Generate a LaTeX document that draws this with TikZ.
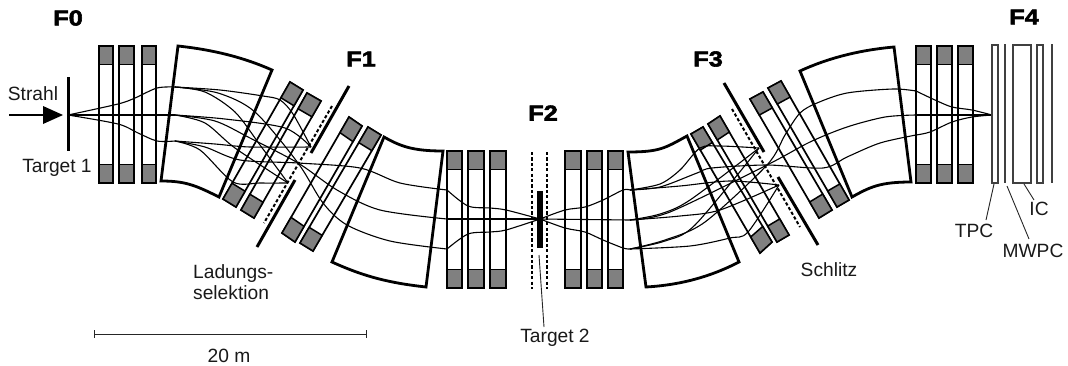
\documentclass[tikz,border=0pt]{standalone}
\usepackage{fontspec}
\setmainfont{Liberation Sans}
\newfontfamily\heavyfont[FakeBold=2.6,FakeStretch=1.18]{Liberation Sans Bold}
\usetikzlibrary{calc}
\definecolor{qgray}{HTML}{808080}
\tikzset{
  ray/.style={draw=black,line width=1.1pt,smooth,tension=0.5},
  dipole/.style={draw=black,line width=2.8pt,line join=miter},
  qbox/.style={draw=black,line width=1.7pt,fill=white,line join=miter},
  qend/.style={draw=black,line width=1.5pt,fill=qgray,line join=miter},
  slit/.style={draw=black,line width=3pt},
  dslit/.style={draw=black,line width=2pt,dash pattern=on 3.2pt off 2.2pt},
  det/.style={draw=black!75,line width=1.4pt,fill=white},
  detline/.style={draw=black!75,line width=1.2pt},
  lead/.style={draw=black!85,line width=0.9pt},
  lab/.style={font=\fontsize{19.2pt}{21pt}\selectfont,inner sep=0pt,text=black!90},
  head/.style={font=\heavyfont\fontsize{21.5pt}{24pt}\selectfont,inner sep=0pt},
}
% four corners: top-left, top-right, bottom-right, bottom-left
\newcommand{\magnet}[4]{%
  \path[qbox] #1 -- #2 -- #3 -- #4 -- cycle;
  \path[qend] #1 -- #2 -- ($#2!0.135!#3$) -- ($#1!0.135!#4$) -- cycle;
  \path[qend] #4 -- #3 -- ($#3!0.135!#2$) -- ($#4!0.135!#1$) -- cycle;
}
\newcommand{\vmagnet}[2]{\magnet{(#1,46)}{(#2,46)}{(#2,183)}{(#1,183)}}
\newcommand{\wmagnet}[2]{\magnet{(#1,151)}{(#2,151)}{(#2,288)}{(#1,288)}}
\begin{document}
\begin{tikzpicture}[x=1pt,y=-1pt]
\useasboundingbox (0,0) rectangle (1068,365);
% magnets
\vmagnet{99}{113}\vmagnet{119}{134}\vmagnet{142}{156}
\magnet{(290,82)}{(303,90)}{(236,207)}{(223,199)}
\magnet{(307,93)}{(321,101)}{(254,218)}{(241,210)}
\magnet{(349,117)}{(362,126)}{(295,242)}{(282,233)}
\magnet{(368,127)}{(381,135)}{(313,251)}{(300,243)}
\wmagnet{447}{462}\wmagnet{468}{484}\wmagnet{490}{506}
\wmagnet{565}{581}\wmagnet{587}{602}\wmagnet{608}{623}
\magnet{(691,134)}{(703,127)}{(772,242)}{(760,253)}
\magnet{(708,124)}{(720,116)}{(789,235)}{(777,242)}
\magnet{(750,99)}{(763,92)}{(832,210)}{(819,218)}
\magnet{(768,88)}{(781,81)}{(849,200)}{(837,207)}
\vmagnet{916}{931}\vmagnet{937}{952}\vmagnet{958}{973}
% key beam points
\coordinate (T1) at (68,115);
\coordinate (S1) at (175,87);
\coordinate (S2) at (175,115);
\coordinate (S3) at (175,141);
\coordinate (U) at (311,147);
\coordinate (M) at (298,163);
\coordinate (L) at (288,183);
\coordinate (T2) at (540,219);
\coordinate (B1) at (447,190);
\coordinate (B2) at (447,219);
\coordinate (B3) at (447,249);
\coordinate (R1) at (630,190);
\coordinate (R2) at (630,220);
\coordinate (R3) at (630,249);
\coordinate (V) at (759,148);
\coordinate (N) at (767,165);
\coordinate (W) at (779,185);
\coordinate (E1) at (916,91);
\coordinate (E2) at (916,115);
\coordinate (E3) at (916,135);
\coordinate (F4) at (992,115);
% F0 to dipole
\draw[ray] plot coordinates {(T1) (118,104) (135,98) (157,88) (S1)};
\draw[ray] (T1) -- (S2);
\draw[ray] plot coordinates {(T1) (118,124) (138,133) (157,141) (S3)};
% fans to F1
\draw[ray] plot coordinates {(S1) (220,90) (263,96) (280,100) (293,114) (U)};
\draw[ray] plot coordinates {(S1) (205,92) (235,112) (260,145) (L)};
\draw[ray] plot coordinates {(S1) (218,93) (255,112) (M) (323,203) (347,225) (390,241) (B3)};
\draw[ray] plot coordinates {(S2) (225,119) (285,128) (U)};
\draw[ray] plot coordinates {(S2) (215,121) (250,138) (M) (337,190) (380,210) (B2)};
\draw[ray] plot coordinates {(S2) (205,123) (235,148) (L)};
\draw[ray] plot coordinates {(S3) (215,144) (250,147) (U)};
\draw[ray] plot coordinates {(S3) (205,147) (240,160) (M) (360,168) (400,183) (B1)};
\draw[ray] plot coordinates {(S3) (200,150) (233,182) (260,183) (L)};
% dipole 2 to F2
\draw[ray] plot coordinates {(B1) (468,206) (490,208) (506,210) (T2)};
\draw[ray] (B2) -- (T2);
\draw[ray] plot coordinates {(B3) (468,234) (490,232) (506,230) (T2)};
% F2 to dipole
\draw[ray] plot coordinates {(T2) (565,210) (585,207) (603,200) (623,190) (R1)};
\draw[ray] (T2) -- (R2);
\draw[ray] plot coordinates {(T2) (565,228) (585,232) (603,240) (623,248) (R3)};
% fans to F3
\draw[ray] plot coordinates {(R1) (660,184) (680,170) (700,148) (720,146) (V)};
\draw[ray] plot coordinates {(R1) (680,186) (730,181) (W)};
\draw[ray] plot coordinates {(R1) (660,187) (697,173) (712,168) (N) (823,168) (847,157) (880,143) (E3)};
\draw[ray] plot coordinates {(R2) (660,214) (690,200) (V)};
\draw[ray] plot coordinates {(R2) (680,216) (720,210) (W)};
\draw[ray] plot coordinates {(R2) (670,212) (N) (810,142) (847,127) (885,117) (E2)};
\draw[ray] plot coordinates {(R3) (665,241) (695,225) (V)};
\draw[ray] plot coordinates {(R3) (690,246) (730,238) (748,232) (W)};
\draw[ray] plot coordinates {(R3) (665,240) (705,222) (N) (785,135) (800,113) (817,103) (847,93) (893,89) (E1)};
% dipole 4 to F4
\draw[ray] plot coordinates {(E1) (935,100) (952,107) (972,110) (F4)};
\draw[ray] (E2) -- (F4);
\draw[ray] plot coordinates {(E3) (930,132) (952,122) (972,117) (F4)};
% dipoles
\draw[dipole] (178,46) .. controls (215,50) and (245,58) .. (272,70) -- (219,197) .. controls (195,185) and (185,181) .. (161,181) -- cycle;
\draw[dipole] (384,137) .. controls (400,146) and (412,151) .. (443,151) -- (426,287) .. controls (390,283) and (365,277) .. (332,262) -- cycle;
\draw[dipole] (628,152) .. controls (660,152) and (665,148) .. (687,136) -- (739,262) .. controls (710,277) and (680,285) .. (646,287) -- cycle;
\draw[dipole] (800,71) .. controls (828,58) and (860,50) .. (894,47) -- (911,182) .. controls (880,182) and (870,187) .. (852,197) -- cycle;
% slits
\draw[slit] (68,77) -- (68,151);
\draw[slit] (349,86) -- (311,153);
\draw[slit] (295,180) -- (257,247);
\draw[dslit] (332,106) -- (264,223);
\draw[line width=5.5pt] (540,191) -- (540,248);
\draw[dslit] (532,152) -- (532,289);
\draw[dslit] (547,152) -- (547,289);
\draw[slit] (724,83) -- (764,152);
\draw[slit] (778,177) -- (818,245);
\draw[dslit] (732,109) -- (800,227);
% beam arrow
\coordinate (A0) at (9,115);
\coordinate (A1) at (43,115);
\draw[line width=2pt] (A0) -- (A1);
\fill (43,106) -- (63,115) -- (43,124) -- cycle;
% detectors
\draw[det] (992,45) rectangle (998,183);
\draw[detline] (1005,44) -- (1005,183);
\draw[det] (1013,45) rectangle (1031,183);
\draw[det] (1037,45) rectangle (1043,183);
\draw[detline] (1052,44) -- (1052,183);
% labels
\node[head] (f0) at (68,18) {F0};
\node[head] (f1) at (361,59) {F1};
\node[head] (f2) at (543,113) {F2};
\node[head] (f3) at (708,59) {F3};
\node[head] (f4) at (1024,17) {F4};
\node[lab] (strahl) at (33,94) {Strahl};
\node[lab] (t1) at (57,168) {Target 1};
\node[lab,align=left,anchor=west] (ls) at (193,282) {Ladungs-\\[0.1pt]selektion};
\node[lab] (sch) at (829,270) {Schlitz};
\node[lab] (t2) at (555,338) {Target 2};
\node[lab] (tpc) at (974,231) {TPC};
\node[lab] (mw) at (1033,251) {MWPC};
\node[lab] (ic) at (1039,209) {IC};
\node[lab] (m20) at (229,356) {20 m};
% leaders
\coordinate (b1) at (994,184);
\coordinate (b2) at (1007,186);
\coordinate (b3) at (1024,184);
\coordinate (b4) at (539,255);
\draw[lead] (b1) -- (986,220);
\draw[lead] (b2) -- (1029,239);
\draw[lead] (b3) -- (1034,200);
\draw[lead] (b4) -- (544,327);
% scale bar
\draw[lead] (94,334) -- (366,334);
\draw[lead] (94,330) -- (94,338);
\draw[lead] (366,330) -- (366,338);
\end{tikzpicture}
\end{document}
